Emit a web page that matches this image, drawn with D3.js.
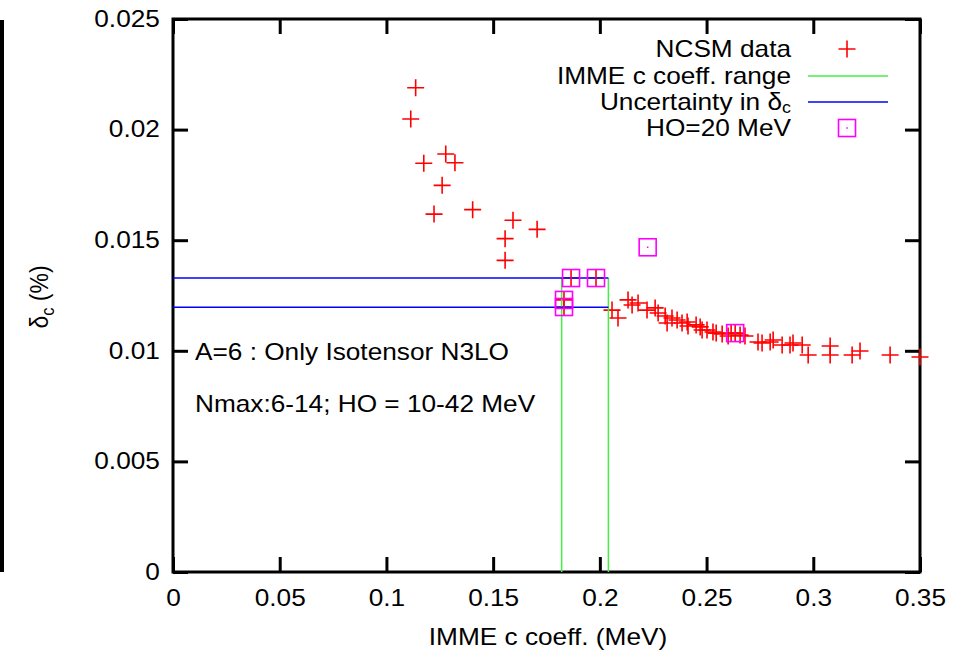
<!DOCTYPE html>
<html>
<head>
<meta charset="utf-8">
<script src="https://cdn.jsdelivr.net/npm/d3@7"></script>
<style>
  html, body { margin: 0; padding: 0; background: #fff; }
  svg { display: block; }
  text { font-family: "Liberation Sans", Arial, Helvetica, sans-serif; fill: #000; }
</style>
</head>
<body>
<svg id="chart" width="961" height="654"></svg>
<script>
// ---------------- data ----------------
const xTicks = [0, 0.05, 0.1, 0.15, 0.2, 0.25, 0.3, 0.35];
const xTickLabels = ["0", "0.05", "0.1", "0.15", "0.2", "0.25", "0.3", "0.35"];
const yTicks = [0, 0.005, 0.01, 0.015, 0.02, 0.025];
const yTickLabels = ["0", "0.005", "0.01", "0.015", "0.02", "0.025"];

// NCSM data (IMME c coeff in MeV, delta_c in %)
const ncsmC = [
  0.1137, 0.1114, 0.1278, 0.1321, 0.1175, 0.1261, 0.1223, 0.1404, 0.1593, 0.1706, 0.1556, 0.1556,
  0.1832, 0.1832, 0.1865, 0.1982, 0.2634,
  0.2057, 0.2085, 0.2132, 0.2151, 0.2179, 0.2221, 0.2259, 0.2273, 0.2306, 0.2315,
  0.2338, 0.2362, 0.2385, 0.2409, 0.2413, 0.2451, 0.2470, 0.2479, 0.2502, 0.2530,
  0.2545, 0.2573, 0.2601, 0.2615, 0.2657, 0.2680, 0.2741, 0.2760, 0.2798, 0.2812,
  0.2854, 0.2891, 0.2905, 0.2948, 0.2976, 0.3079, 0.3079, 0.3182, 0.3219, 0.3360, 0.3500
];
const ncsmDelta = [
  0.02189, 0.02048, 0.01890, 0.01850, 0.01848, 0.01748, 0.01618, 0.01638, 0.01590, 0.01549, 0.01507, 0.01409,
  0.01230, 0.01198, 0.01329, 0.01329, 0.01080,
  0.01184, 0.01148, 0.01230, 0.01207, 0.01216, 0.01184, 0.01194, 0.01171, 0.01157, 0.01126,
  0.01148, 0.01139, 0.01126, 0.01130, 0.01112, 0.01117, 0.01108, 0.01094, 0.01094, 0.01085,
  0.01080, 0.01076, 0.01067, 0.01080, 0.01071, 0.01067, 0.01040, 0.01035, 0.01040, 0.01049,
  0.01026, 0.01026, 0.01035, 0.01026, 0.00981, 0.01022, 0.00981, 0.00981, 0.00999, 0.00981, 0.00972
];

// HO = 20 MeV points
const hoC = [0.1832, 0.1832, 0.1865, 0.1982, 0.2224, 0.2634];
const hoDelta = [0.01230, 0.01198, 0.01329, 0.01329, 0.01468, 0.01080];

// IMME c coefficient range and delta_c uncertainty
const cRange = [0.1821, 0.2040];
const deltaRange = [0.01197, 0.01329];

const legendLabels = ["NCSM data", "IMME c coeff. range", "Uncertainty in δ", "HO=20 MeV"];
const annotations = ["A=6 : Only Isotensor N3LO", "Nmax:6-14; HO = 10-42 MeV"];

// ---------------- layout ----------------
const SX = 1.14;          // horizontal text stretch of the original
const FS = 23;            // font size
const mLeft = 173, mRight = 920, mTop = 19, mBottom = 572;

const svg = d3.select("#chart");
const x = d3.scaleLinear().domain([0, 0.35]).range([mLeft, mRight]);
const y = d3.scaleLinear().domain([0, 0.025]).range([mBottom, mTop]);

// left black bar (artifact of source)
svg.append("rect").attr("x", 0).attr("y", 20).attr("width", 4).attr("height", 552).attr("fill", "#000");

// frame
svg.append("rect")
  .attr("x", mLeft).attr("y", mTop)
  .attr("width", mRight - mLeft).attr("height", mBottom - mTop)
  .attr("fill", "none").attr("stroke", "#000").attr("stroke-width", 3);

function styleAxis(g) {
  g.select(".domain").remove();
  g.selectAll(".tick line").attr("stroke", "#000").attr("stroke-width", 3);
  g.selectAll(".tick text").attr("font-size", FS).attr("font-family", "Liberation Sans, Arial, sans-serif").attr("fill", "#000");
}

const gx = svg.append("g").attr("transform", `translate(0,${mBottom})`)
  .call(d3.axisBottom(x).tickValues(xTicks).tickFormat((d, i) => xTickLabels[i]).tickSizeInner(-15).tickSizeOuter(0).tickPadding(18));
styleAxis(gx);
gx.selectAll(".tick text").attr("transform", `scale(${SX},1)`);

const gy = svg.append("g").attr("transform", `translate(${mLeft},0)`)
  .call(d3.axisLeft(y).tickValues(yTicks).tickFormat((d, i) => yTickLabels[i]).tickSizeInner(-15).tickSizeOuter(0).tickPadding(11.5));
styleAxis(gy);
gy.selectAll(".tick text").attr("transform", `scale(${SX},1)`);

const gt = svg.append("g").attr("transform", `translate(0,${mTop})`)
  .call(d3.axisTop(x).tickValues(xTicks).tickFormat("").tickSizeInner(-15).tickSizeOuter(0));
styleAxis(gt);
const gr = svg.append("g").attr("transform", `translate(${mRight},0)`)
  .call(d3.axisRight(y).tickValues(yTicks).tickFormat("").tickSizeInner(-15).tickSizeOuter(0));
styleAxis(gr);

// axis titles
svg.append("text")
  .attr("transform", `translate(548,645) scale(${SX},1)`)
  .attr("text-anchor", "middle").attr("font-size", FS)
  .text("IMME c coeff. (MeV)");

const yl = svg.append("text")
  .attr("transform", `translate(48,297) scale(${SX},1) rotate(-90)`)
  .attr("text-anchor", "middle").attr("font-size", FS);
yl.append("tspan").text("δ");
yl.append("tspan").attr("font-size", FS * 0.72).attr("dy", 5).text("c");
yl.append("tspan").attr("dy", -5).text(" (%)");

// annotations
svg.append("text").attr("transform", `translate(195,360) scale(${SX},1)`).attr("font-size", FS).text(annotations[0]);
svg.append("text").attr("transform", `translate(195,412) scale(${SX},1)`).attr("font-size", FS).text(annotations[1]);

// ---------------- marks ----------------
const red = "#ff0000", green = "#44ee44", blue = "#0000ff", magenta = "#ff00ff";
const P = 8.5; // plus half size
const S = 8.5; // square half size

function plus(g, cx, cy) {
  g.append("path")
    .attr("d", `M${cx - P},${cy}H${cx + P}M${cx},${cy - P}V${cy + P}`)
    .attr("stroke", red).attr("stroke-width", 1.6).attr("fill", "none");
}
function square(g, cx, cy) {
  g.append("rect").attr("x", cx - S).attr("y", cy - S).attr("width", 2 * S).attr("height", 2 * S)
    .attr("fill", "none").attr("stroke", magenta).attr("stroke-width", 1.6);
  g.append("rect").attr("x", cx - 0.75).attr("y", cy - 0.75).attr("width", 1.5).attr("height", 1.5).attr("fill", magenta);
}

const gData = svg.append("g");
ncsmC.forEach((c, i) => plus(gData, x(c), y(ncsmDelta[i])));

// IMME c range (green verticals)
const gLines = svg.append("g");
cRange.forEach(c => {
  gLines.append("line").attr("x1", x(c)).attr("x2", x(c)).attr("y1", y(0)).attr("y2", y(deltaRange[1]))
    .attr("stroke", green).attr("stroke-width", 1.5);
});
// uncertainty in delta_c (blue horizontals)
deltaRange.forEach(d => {
  gLines.append("line").attr("x1", x(0)).attr("x2", x(cRange[1])).attr("y1", y(d)).attr("y2", y(d))
    .attr("stroke", blue).attr("stroke-width", 1.5);
});

const gHO = svg.append("g");
hoC.forEach((c, i) => square(gHO, x(c), y(hoDelta[i])));

// ---------------- legend ----------------
const legY = [49, 76, 102, 128];
const gLeg = svg.append("g");
legendLabels.forEach((lab, i) => {
  const t = gLeg.append("text")
    .attr("transform", `translate(791,${legY[i] + 8}) scale(${SX},1)`)
    .attr("text-anchor", "end").attr("font-size", i === 2 ? FS : FS);
  if (i === 2) {
    t.append("tspan").text(lab);
    t.append("tspan").attr("font-size", FS * 0.68).attr("dy", 3).text("c");
  } else {
    t.text(lab);
  }
});
plus(gLeg, 847, legY[0]);
gLeg.append("line").attr("x1", 808).attr("x2", 888).attr("y1", legY[1]).attr("y2", legY[1]).attr("stroke", green).attr("stroke-width", 1.5);
gLeg.append("line").attr("x1", 808).attr("x2", 888).attr("y1", legY[2]).attr("y2", legY[2]).attr("stroke", blue).attr("stroke-width", 1.5);
square(gLeg, 847, legY[3]);
</script>
</body>
</html>
